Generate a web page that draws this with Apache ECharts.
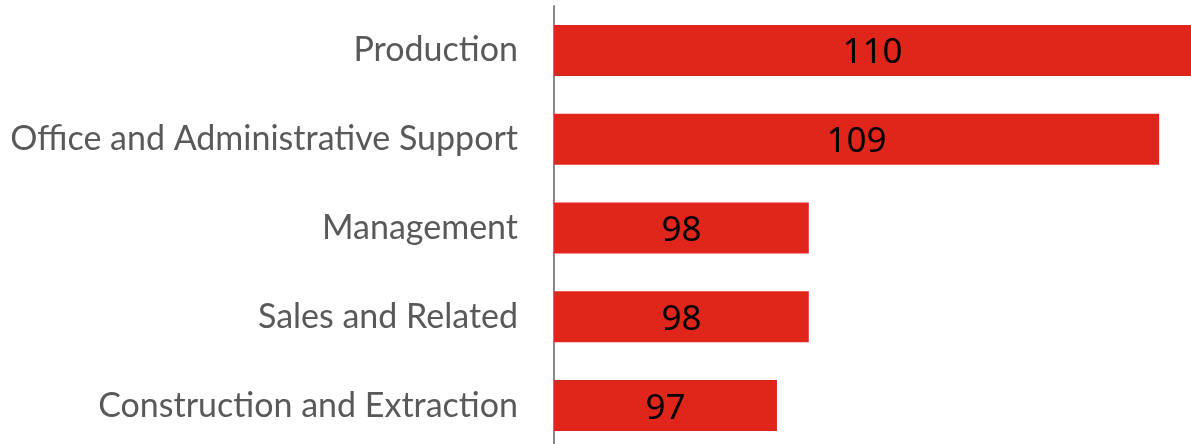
<!DOCTYPE html>
<html>
<head>
<meta charset="utf-8">
<script src="https://cdn.jsdelivr.net/npm/echarts@6/dist/echarts.min.js"></script>
<style>
  html, body { margin: 0; padding: 0; background: #fff; }
  #chart { width: 1191px; height: 444px; }
</style>
</head>
<body>
<div id="chart"></div>
<script>
let categories = ['Production', 'Office and Administrative Support', 'Management', 'Sales and Related', 'Construction and Extraction'];
let values = [110, 109, 98, 98, 97];

let myChart = echarts.init(document.getElementById('chart'));
let colors = ['#e0251b', '#595959', '#888888', '#000000'];
let option = {
    backgroundColor: '#fff',
    animation: false,
    grid: {
        left: 554,
        right: 0,
        top: 6,
        bottom: -6,
        outerBoundsMode: 'none'
    },
    xAxis: {
        type: 'value',
        min: 90,
        max: 110,
        show: false
    },
    yAxis: {
        type: 'category',
        inverse: true,
        data: categories,
        axisTick: { show: false },
        axisLine: {
            lineStyle: { color: colors[2], width: 2 }
        },
        axisLabel: {
            color: colors[1],
            fontFamily: 'Lato',
            fontSize: 34,
            margin: 36
        }
    },
    series: [{
        type: 'bar',
        data: values,
        barWidth: 51,
        itemStyle: { color: colors[0] },
        label: {
            show: true,
            position: 'inside',
            color: colors[3],
            fontFamily: 'Noto Sans',
            fontSize: 35,
            offset: [0, 3]
        }
    }]
};
myChart.setOption(option);
</script>
</body>
</html>
